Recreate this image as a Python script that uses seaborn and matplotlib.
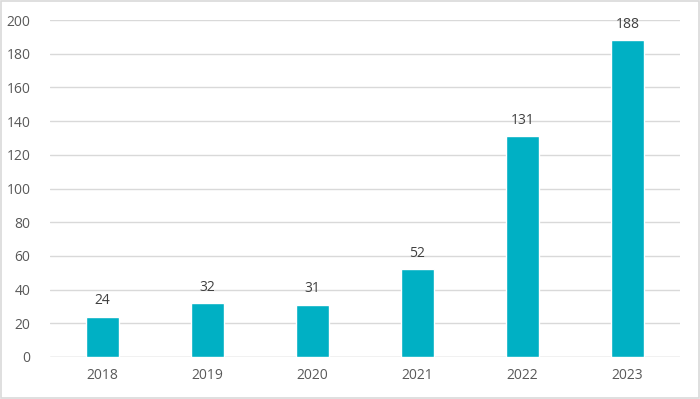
import matplotlib
matplotlib.use("Agg")
import matplotlib.pyplot as plt
import seaborn as sns
import pandas as pd

# chart data
years = ["2018", "2019", "2020", "2021", "2022", "2023"]
counts = [24, 32, 31, 52, 131, 188]
y_ticks = [0, 20, 40, 60, 80, 100, 120, 140, 160, 180, 200]

df = pd.DataFrame({"Year": years, "Count": counts})

sns.set_style("white")
plt.rcParams["font.family"] = ["Open Sans", "DejaVu Sans"]

fig = plt.figure(figsize=(7.0, 3.99), dpi=100)
ax = fig.add_axes([50 / 700, 42 / 399, 630 / 700, 337 / 399])

sns.barplot(data=df, x="Year", y="Count", color="#00B0C4", width=0.31,
            saturation=1, ax=ax)

for i, v in enumerate(counts):
    ax.text(i, v + 5, str(v), ha="center", va="bottom", fontsize=10, color="#404040")

ax.set_ylim(0, 200)
ax.set_yticks(y_ticks)
ax.set_xlim(-0.5, len(years) - 0.5)
ax.yaxis.grid(True, color="#D9D9D9", linewidth=1)
ax.set_axisbelow(True)
for s in ax.spines.values():
    s.set_visible(False)
ax.axhline(0, color="#D9D9D9", linewidth=1, zorder=0.5)
ax.tick_params(axis="both", length=0, labelsize=10, labelcolor="#595959")
ax.tick_params(axis="y", pad=14)
ax.tick_params(axis="x", pad=8)
ax.set_xlabel("")
ax.set_ylabel("")

# light frame around the whole chart
fig.patches.append(plt.Rectangle((0.001, 0.002), 0.998, 0.996, transform=fig.transFigure,
                                 fill=False, edgecolor="#D9D9D9", linewidth=1.2))

fig.savefig("out.png", dpi=100)
